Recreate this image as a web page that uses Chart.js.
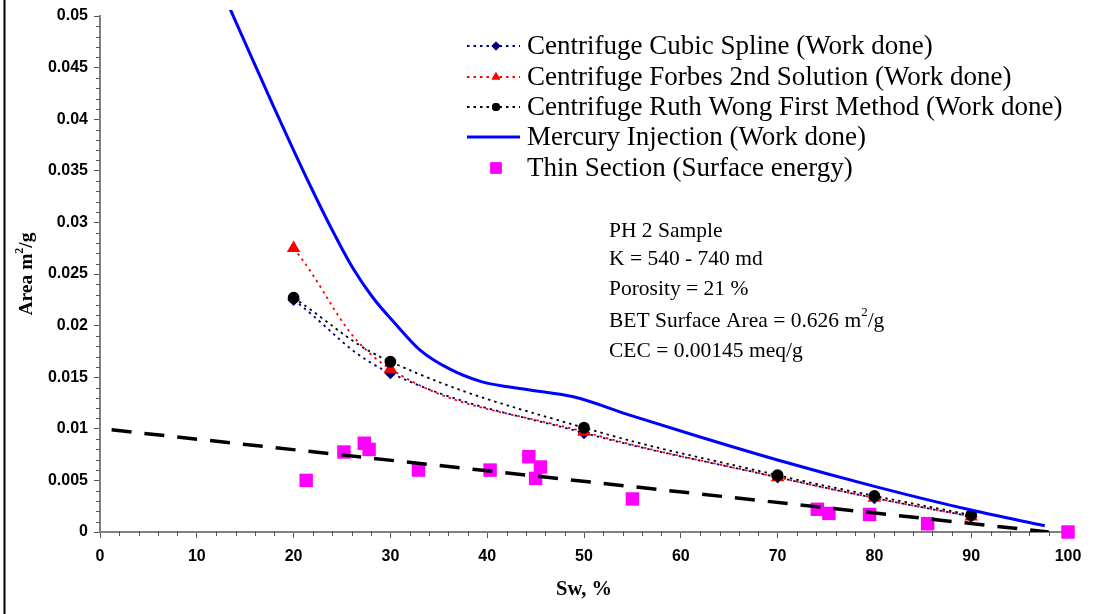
<!DOCTYPE html>
<html>
<head>
<meta charset="utf-8">
<script src="https://cdn.jsdelivr.net/npm/chart.js@4.4.1/dist/chart.umd.min.js"></script>
<style>
  html, body { margin: 0; padding: 0; background: #fff; }
  #wrap { position: relative; width: 1112px; height: 614px; }
</style>
</head>
<body>
<div id="wrap"><canvas id="chart" width="1112" height="614"></canvas></div>
<script>
    // values
    const swCentrifuge = [20, 30, 50, 70, 80, 90];
    const cubicSpline = [0.0225, 0.0154, 0.0096, 0.0053, 0.0033, 0.0015];
    const forbes = [0.0275, 0.0158, 0.0097, 0.0053, 0.0033, 0.0015];
    const ruthWong = [0.0227, 0.0165, 0.0101, 0.0055, 0.0035, 0.00165];

    const swMercury = [13.2, 15.8, 17.9, 19.8, 21.7, 23.8, 26.1, 28.2, 30.3, 33.1, 35.9, 39.3, 44.4, 48.9, 54.8, 62, 69.9, 80.1, 90.1, 97.6];
    const mercury = [0.0512, 0.0457, 0.0413, 0.0374, 0.0336, 0.0296, 0.0256, 0.0227, 0.0204, 0.0176, 0.0159, 0.0146, 0.01376, 0.0131, 0.0113, 0.0092, 0.0070, 0.0044, 0.0021, 0.0006];

    const swThin = [21.3, 25.2, 27.3, 27.8, 32.9, 40.3, 44.3, 45.5, 45.0, 55.0, 74.1, 75.3, 79.5, 85.5, 100];
    const thinSection = [0.0050, 0.00775, 0.0086, 0.0080, 0.0060, 0.0060, 0.0073, 0.0063, 0.0052, 0.0032, 0.0022, 0.0018, 0.0017, 0.0008, 0];

    const swTrend = [1.2, 98];
    const trend = [0.0099, 0.0];

    const xTicks = [0, 10, 20, 30, 40, 50, 60, 70, 80, 90, 100];
    const yTicks = [0, 0.005, 0.01, 0.015, 0.02, 0.025, 0.03, 0.035, 0.04, 0.045, 0.05];

    const sampleLines = [
        'PH 2 Sample',
        'K = 540 - 740 md',
        'Porosity = 21 %',
        'BET Surface Area = 0.626 m|2|/g',
        'CEC = 0.00145 meq/g'
    ];

    function pts(xs, ys) {
        return xs.map((x, i) => ({ x: x, y: ys[i] }));
    }

    const SERIF = '"Liberation Serif", "Times New Roman", serif';
    const SANS = '"Liberation Sans", Arial, sans-serif';

    // text with |sup| parts
    function drawRich(ctx, str, x, y, size, weight, align) {
        const parts = str.split('|');
        const big = weight + ' ' + size + 'px ' + SERIF;
        const small = weight + ' ' + Math.round(size * 0.62) + 'px ' + SERIF;
        let total = 0;
        parts.forEach((p, i) => {
            ctx.font = i % 2 ? small : big;
            total += ctx.measureText(p).width;
        });
        let cx = align === 'center' ? x - total / 2 : x;
        ctx.textAlign = 'left';
        parts.forEach((p, i) => {
            ctx.font = i % 2 ? small : big;
            ctx.fillText(p, cx, i % 2 ? y - size * 0.38 : y);
            cx += ctx.measureText(p).width;
        });
    }

    const decorPlugin = {
        id: 'decor',
        afterDraw(chart) {
            const ctx = chart.ctx;
            const xs = chart.scales.x, ys = chart.scales.y;
            const area = chart.chartArea;
            ctx.save();

            // frame line on the left
            ctx.fillStyle = '#000';
            ctx.fillRect(3.5, 0, 2, 614);

            // minor ticks
            ctx.strokeStyle = '#555';
            ctx.lineWidth = 1;
            ctx.beginPath();
            for (let i = 0; i <= 50; i++) {
                if (i % 5 === 0) continue;
                const py = Math.round(ys.getPixelForValue(i / 1000)) + 0.5;
                ctx.moveTo(area.left - 4, py);
                ctx.lineTo(area.left, py);
            }
            for (let v = 0; v <= 100; v += 2) {
                if (v % 10 === 0) continue;
                const px = Math.round(xs.getPixelForValue(v)) + 0.5;
                ctx.moveTo(px, area.bottom - 1);
                ctx.lineTo(px, area.bottom + 4);
            }
            ctx.stroke();

            // axis titles
            ctx.fillStyle = '#000';
            ctx.textBaseline = 'middle';
            ctx.font = 'bold 20.5px ' + SERIF;
            ctx.textAlign = 'center';
            ctx.fillText('Sw, %', 584, 590);

            ctx.save();
            ctx.translate(27, 274);
            ctx.rotate(-Math.PI / 2);
            drawRich(ctx, 'Area m|2|/g', 0, 0, 19.5, 'bold', 'center');
            ctx.restore();

            // legend
            const rows = [46, 77, 107, 137, 168];
            chart.data.datasets.forEach((ds, i) => {
                if (ds.legendRow === undefined) return;
                const y = rows[ds.legendRow];
                if (ds.showLine) {
                    ctx.save();
                    ctx.strokeStyle = ds.borderColor;
                    ctx.lineWidth = ds.borderWidth;
                    ctx.setLineDash(ds.borderDash || []);
                    ctx.beginPath();
                    ctx.moveTo(467, y);
                    ctx.lineTo(520, y);
                    ctx.stroke();
                    ctx.restore();
                }
                if (ds.pointRadius > 0) {
                    ctx.fillStyle = ds.pointBackgroundColor;
                    ctx.strokeStyle = ds.pointBorderColor;
                    Chart.helpers.drawPoint(ctx, {
                        pointStyle: ds.pointStyle,
                        radius: ds.legendPointRadius || ds.pointRadius,
                        rotation: 0,
                        borderWidth: 0
                    }, 496, y);
                    ctx.fill();
                }
                ctx.fillStyle = '#000';
                ctx.textAlign = 'left';
                ctx.textBaseline = 'middle';
                ctx.font = '27px ' + SERIF;
                ctx.fillText(ds.label, 527, y + 1);
            });

            // sample description
            ctx.fillStyle = '#000';
            ctx.textBaseline = 'middle';
            const lineY = [231, 259, 289, 321, 351];
            sampleLines.forEach((s, i) => {
                drawRich(ctx, s, 609, lineY[i], 21.5, 'normal', 'left');
            });

            ctx.restore();
        }
    };

    const tickFont = { family: SANS, size: 16, weight: 'bold' };

    new Chart(document.getElementById('chart'), {
        type: 'scatter',
        data: {
            datasets: [
                {
                    label: 'Trend',
                    data: pts(swTrend, trend),
                    showLine: true,
                    borderColor: '#000',
                    borderWidth: 3.5,
                    borderDash: [20, 13],
                    pointRadius: 0,
                    order: 0
                },
                {
                    label: 'Thin Section (Surface energy)',
                    data: pts(swThin, thinSection),
                    showLine: false,
                    pointStyle: 'rect',
                    pointRadius: 9.5,
                    legendPointRadius: 8,
                    pointBackgroundColor: '#ff00ff',
                    pointBorderColor: '#ff00ff',
                    pointBorderWidth: 0,
                    clip: false,
                    legendRow: 4,
                    order: 1
                },
                {
                    label: 'Mercury Injection (Work done)',
                    data: pts(swMercury, mercury),
                    showLine: true,
                    borderColor: '#0000ff',
                    borderWidth: 3,
                    cubicInterpolationMode: 'monotone',
                    pointRadius: 0,
                    clip: { left: 0, top: 6, right: 0, bottom: 0 },
                    legendRow: 3,
                    order: 2
                },
                {
                    label: 'Centrifuge Ruth Wong First Method (Work done)',
                    data: pts(swCentrifuge, ruthWong),
                    showLine: true,
                    borderColor: '#000',
                    borderWidth: 1.8,
                    borderDash: [2.5, 4],
                    tension: 0.4,
                    pointStyle: 'circle',
                    pointRadius: 5,
                    legendPointRadius: 4,
                    pointBackgroundColor: '#000',
                    pointBorderColor: '#000',
                    legendRow: 2,
                    order: 3
                },
                {
                    label: 'Centrifuge Forbes 2nd Solution (Work done)',
                    data: pts(swCentrifuge, forbes),
                    showLine: true,
                    borderColor: '#ff0000',
                    borderWidth: 1.8,
                    borderDash: [2.5, 4],
                    tension: 0.4,
                    pointStyle: 'triangle',
                    pointRadius: 6,
                    legendPointRadius: 5,
                    pointBackgroundColor: '#ff0000',
                    pointBorderColor: '#ff0000',
                    legendRow: 1,
                    order: 4
                },
                {
                    label: 'Centrifuge Cubic Spline (Work done)',
                    data: pts(swCentrifuge, cubicSpline),
                    showLine: true,
                    borderColor: '#000080',
                    borderWidth: 1.8,
                    borderDash: [2.5, 4],
                    tension: 0.4,
                    pointStyle: 'rectRot',
                    pointRadius: 5,
                    legendPointRadius: 4.5,
                    pointBackgroundColor: '#000080',
                    pointBorderColor: '#000080',
                    legendRow: 0,
                    order: 5
                }
            ]
        },
        options: {
            responsive: false,
            animation: false,
            devicePixelRatio: 1,
            layout: { padding: { left: 0, top: 16, right: 44, bottom: 0 } },
            plugins: {
                legend: { display: false },
                tooltip: { enabled: false }
            },
            scales: {
                x: {
                    type: 'linear',
                    min: 0,
                    max: 100,
                    afterBuildTicks: (s) => { s.ticks = xTicks.map(v => ({ value: v })); },
                    afterFit: (s) => { s.height = 82; },
                    ticks: { font: tickFont, color: '#000', padding: 9, maxRotation: 0 },
                    grid: { drawOnChartArea: false, drawTicks: true, tickLength: 6, tickColor: '#555' },
                    border: { color: '#808080', width: 2 }
                },
                y: {
                    type: 'linear',
                    min: 0,
                    max: 0.05,
                    afterBuildTicks: (s) => { s.ticks = yTicks.map(v => ({ value: v })); },
                    afterFit: (s) => { s.width = 100; },
                    ticks: {
                        font: tickFont,
                        color: '#000',
                        padding: 6,
                        callback: (v) => String(+v.toFixed(3))
                    },
                    grid: { drawOnChartArea: false, drawTicks: true, tickLength: 6, tickColor: '#555' },
                    border: { color: '#808080', width: 2 }
                }
            }
        },
        plugins: [decorPlugin]
    });
</script>
</body>
</html>
